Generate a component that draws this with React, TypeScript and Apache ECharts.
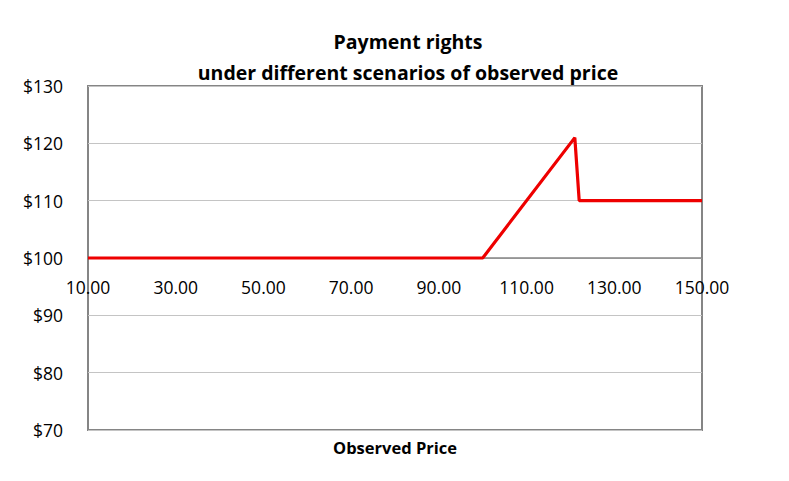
import React, { useEffect, useRef } from "react";
import * as echarts from "echarts";

const titleLines = ["Payment rights", "under different scenarios of observed price"];
const xAxisTitle = "Observed Price";
const observedPrice = [10, 100, 121, 122, 150];
const paymentRights = [100, 100, 121, 110, 110];
const yTicks = [70, 130, 10];
const xTicks = [10, 150, 20];

const FONT = "'Open Sans', 'Noto Sans', sans-serif";

export default function App() {
  const ref = useRef<HTMLDivElement>(null);
  useEffect(() => {
    if (!ref.current) return;
    const chart = echarts.init(ref.current, null, { renderer: "svg" });
    chart.setOption({
      animation: false,
      backgroundColor: "#ffffff",
      title: {
        text: titleLines.join("\n"),
        left: 403,
        textAlign: "center",
        top: 21,
        textStyle: { fontFamily: FONT, fontSize: 19.5, fontWeight: "bold", color: "#000", lineHeight: 31 },
      },
      grid: { left: 88, right: 87, top: 86, bottom: 51, show: true, borderColor: "#858585", borderWidth: 2, backgroundColor: "#fff" },
      xAxis: {
        type: "value",
        min: xTicks[0],
        max: xTicks[1],
        interval: xTicks[2],
        offset: -172,
        axisLine: { show: true, lineStyle: { color: "#858585", width: 1.5 } },
        axisTick: { show: false },
        splitLine: { show: false },
        axisLabel: { margin: 20, fontFamily: FONT, fontSize: 17.5, color: "#000", formatter: (v: number) => v.toFixed(2) },
      },
      yAxis: {
        type: "value",
        min: yTicks[0],
        max: yTicks[1],
        interval: yTicks[2],
        axisLine: { show: false },
        axisTick: { show: false },
        splitLine: { show: true, lineStyle: { color: "#c4c4c4", width: 1 } },
        axisLabel: { margin: 25, fontFamily: FONT, fontSize: 17.5, color: "#000", formatter: (v: number) => "$" + v },
      },
      graphic: [
        {
          type: "text",
          x: 395,
          y: 447,
          style: { text: xAxisTitle, fontFamily: FONT, fontSize: 16.5, fontWeight: "bold", fill: "#000", align: "center", verticalAlign: "middle" },
        },
      ],
      series: [
        {
          type: "line",
          data: observedPrice.map((x, i) => [x, paymentRights[i]]),
          showSymbol: false,
          lineStyle: { color: "#ee0000", width: 3.2 },
          z: 3,
        },
      ],
    });
    return () => chart.dispose();
  }, []);
  return <div ref={ref} style={{ width: 789, height: 481, position: "absolute", left: 0, top: 0 }} />;
}
